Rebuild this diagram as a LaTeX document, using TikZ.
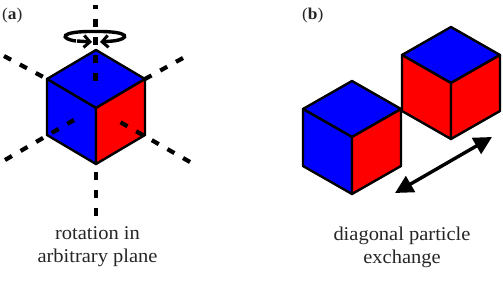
\documentclass[tikz,border=0pt]{standalone}
\usepackage{fontspec}
\setmainfont{Liberation Serif}[FakeStretch=1.05]
\usetikzlibrary{arrows.meta}
\definecolor{cubeblue}{RGB}{0,0,255}
\definecolor{cubered}{RGB}{255,0,0}
\tikzset{
  edge/.style={draw=black,line width=2.4pt,line join=round},
  axis/.style={black,line width=4.2pt,dash pattern=on 8pt off 10pt},
  caption/.style={align=center,font=\fontsize{19.5}{23}\selectfont,inner sep=0pt,text=black!85},
  tag/.style={anchor=west,font=\fontsize{16.5}{18}\selectfont,inner sep=0pt,text=black!85},
  exchange/.style={line width=3.4pt,{Triangle[length=18pt,width=18pt]}-{Triangle[length=18pt,width=18pt]}},
  turn/.style={line width=3.4pt,-{Straight Barb[length=6pt,width=12pt,line width=3pt]}}
}
% One isometric cube: #1,#2 = top vertex, #3 = half width, #4 = rhombus half height, #5 = side height, #6 = left face
\newcommand{\isocube}[6]{%
  \path[fill=cubeblue,edge] (#1,#2) -- ++(#3,#4) -- ++(-#3,#4) -- ++(-#3,-#4) -- cycle;
  \path[fill=#6,edge] (#1-#3,#2+#4) -- ++(#3,#4) -- ++(0,#5) -- ++(-#3,-#4) -- cycle;
  \path[fill=cubered,edge] (#1+#3,#2+#4) -- ++(-#3,#4) -- ++(0,#5) -- ++(#3,-#4) -- cycle;
}
\begin{document}
\begin{tikzpicture}[x=1pt,y=-1pt]
\useasboundingbox (0,0) rectangle (503,286);
% Panel a
\isocube{96}{50}{49}{29}{56}{cubeblue}
\draw[axis,dash phase=4pt] (95.5,5) -- (95.5,81);
\draw[axis] (96,172) -- (96,216);
\draw[axis] (4,56) -- (47,79);
\draw[axis] (183,58) -- (145,79);
\draw[axis] (5,160) -- (74,120);
\draw[axis] (190,162) -- (120,122);
% Ring around the vertical axis
\coordinate (ringL) at (92,42);
\coordinate (ringR) at (100,42);
\draw[turn] (76,41) .. controls (60,39) and (58,31) .. (95,31.5) .. controls (132,31) and (130,39) .. (113,41) -- (ringR);
\draw[turn] (77,41) -- (ringL);
\node[tag] (taga) at (2,16) {(\textbf{a})};
\node[caption] (capa) at (97.5,247) {rotation in\\arbitrary plane};
% Panel b
\isocube{352}{81}{49}{28}{57}{cubeblue}
\isocube{451}{27}{49}{28}{56}{cubered}
\coordinate (exA) at (395,193);
\coordinate (exB) at (492,137);
\draw[exchange] (exA) -- (exB);
\node[tag] (tagb) at (302,16) {(\textbf{b})};
\node[caption] (capb) at (402,247) {diagonal particle\\exchange};
\end{tikzpicture}
\end{document}
